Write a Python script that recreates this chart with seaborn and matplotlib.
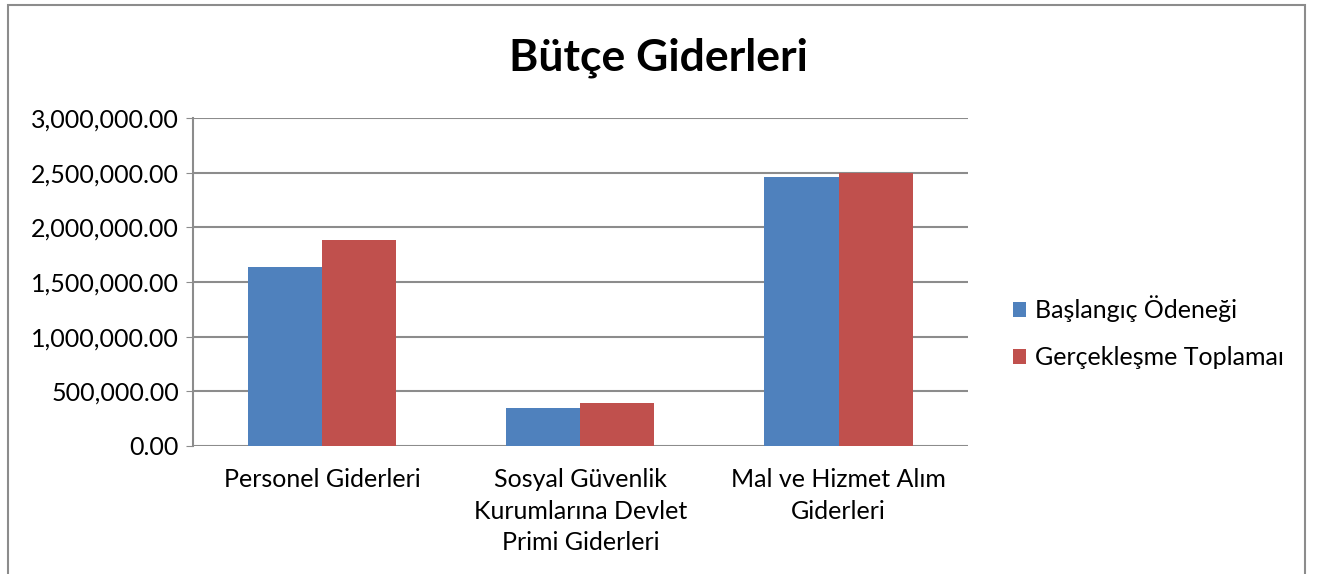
import seaborn as sns
import matplotlib.pyplot as plt
import pandas as pd
from matplotlib.ticker import FuncFormatter
from matplotlib.patches import Rectangle

# chart values
categories = ['Personel Giderleri',
              'Sosyal Güvenlik\nKurumlarına Devlet\nPrimi Giderleri',
              'Mal ve Hizmet Alım\nGiderleri']
baslangic = [1634000, 350000, 2463000]
gerceklesme = [1881000, 393000, 2503000]
series_names = ['Başlangıç Ödeneği', 'Gerçekleşme Toplamaı']
colors = ['#4F81BD', '#C0504D']

df = pd.DataFrame({
    'kategori': categories * 2,
    'seri': [series_names[0]] * 3 + [series_names[1]] * 3,
    'deger': baslangic + gerceklesme,
})

sns.set_style('white')
plt.rcParams['font.family'] = ['Lato', 'DejaVu Sans']
plt.rcParams['text.color'] = 'black'
plt.rcParams['xtick.color'] = 'black'
plt.rcParams['ytick.color'] = 'black'

fig = plt.figure(figsize=(13.22, 5.74), dpi=100)
ax = fig.add_axes([0.146, 0.223, 0.586, 0.571])

sns.barplot(data=df, x='kategori', y='deger', hue='seri', palette=colors,
            width=0.574, saturation=1, ax=ax, edgecolor='none')

ax.set_xlim(-0.5, 2.5)
ax.set_ylim(0, 3000000)
ax.set_yticks(range(0, 3000001, 500000))
ax.yaxis.set_major_formatter(FuncFormatter(lambda v, p: f'{v:,.2f}'))
ax.grid(axis='y', color='#8c8c8c', linewidth=1.5)
ax.set_axisbelow(True)
ax.set_xlabel('')
ax.set_ylabel('')
ax.tick_params(axis='y', labelsize=18, length=5, color='#8c8c8c', direction='out',
               left=True, pad=5)
ax.tick_params(axis='x', labelsize=18, length=0, pad=16)
ax.set_xticks(range(len(categories)))
ax.set_xticklabels(categories, linespacing=1.45)
for s in ['top', 'right', 'bottom']:
    ax.spines[s].set_visible(False)
ax.spines['left'].set_color('#8c8c8c')
ax.spines['left'].set_linewidth(1.5)

ax.legend(loc='center left', bbox_to_anchor=(1.029, 0.347), frameon=False,
          fontsize=18, handlelength=0.55, handleheight=0.55, handletextpad=0.35,
          labelspacing=0.95)

fig.suptitle('Bütçe Giderleri', fontsize=32, fontweight='bold', x=0.498, y=0.934)

# outer chart border (bottom edge runs off the picture)
fig.patches.append(Rectangle((8 / 1322, -0.02), 1297 / 1322, 1.02 - 5 / 574,
                             transform=fig.transFigure, fill=False,
                             edgecolor='#8c8c8c', linewidth=1.5))

fig.savefig('out.png', dpi=100)
